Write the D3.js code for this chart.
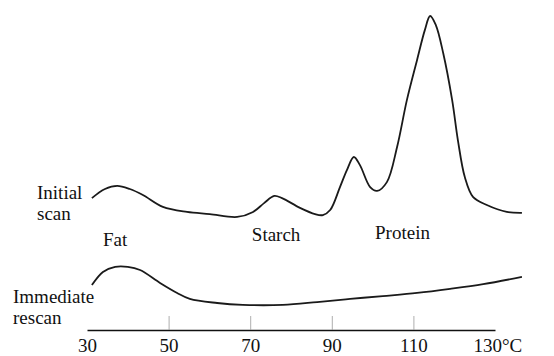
<!DOCTYPE html>
<html>
<head>
<meta charset="utf-8">
<script src="https://cdn.jsdelivr.net/npm/d3@7"></script>
<style>
  body { margin: 0; background: #fff; }
  svg { display: block; }
</style>
</head>
<body>
<div id="chart"></div>
<script>

////// DATA

// temperature in °C
var initial_temp = [31.2, 34.4, 37.4, 40.5, 43.7, 48.6, 54.5, 60.1, 66.8, 70.7, 73.4, 75.9, 77.8, 82.2, 85.9, 87.8, 89.6,
  92.0, 93.7, 95.4, 96.9, 99.4, 101.1, 103.5, 106.0, 108.4, 110.9, 112.8, 114.1, 115.5, 117.3, 119.5, 120.9, 122.6,
  124.6, 128.0, 132.9, 136.6];
// heat flow, relative units
var initial_flow = [42.0, 44.9, 45.9, 44.9, 43.0, 39.2, 37.6, 36.9, 36.0, 37.6, 40.4, 42.7, 42.0, 38.9, 36.9, 36.6, 38.2,
  45.5, 50.9, 55.1, 52.5, 45.5, 44.3, 47.1, 58.3, 73.2, 86.0, 95.5, 100, 97.1, 88.2, 73.2, 60.5, 48.7,
  42.4, 39.8, 37.6, 37.3];

var rescan_temp = [31.2, 33.9, 36.9, 40.0, 43.0, 47.9, 52.1, 55.2, 61.9, 68.2, 78.0, 86.4, 94.5, 102.5, 110.9, 119.0, 127.1, 136.6];
var rescan_flow = [14.3, 18.5, 20.1, 20.1, 19.1, 15.0, 11.8, 9.9, 8.6, 8.0, 8.0, 8.9, 9.9, 10.8, 11.8, 13.1, 14.6, 16.9];

var tick_values = [30, 50, 70, 90, 110, 130];

// peak names: [label, temperature, flow]
var peak_labels = [["Fat", 33.9, 26.8], ["Starch", 70.4, 28.3], ["Protein", 100.6, 29.0]];

////// CHART

var width = 554, height = 356;
var serif = "'Liberation Serif', 'Times New Roman', Times, 'DejaVu Serif', serif";

var svg = d3.select("#chart")
  .append("svg")
  .attr("width", width)
  .attr("height", height)
  .style("font-family", serif);

var x = d3.scaleLinear().domain([30, 130]).range([87, 495]);
var y = d3.scaleLinear().domain([0, 100]).range([330, 16]);

var line = d3.line()
  .x(function(d) { return x(d[0]); })
  .y(function(d) { return y(d[1]); })
  .curve(d3.curveCatmullRom.alpha(0.5));

// draw both scans
[[initial_temp, initial_flow], [rescan_temp, rescan_flow]].forEach(function(s) {
  svg.append("path")
    .datum(d3.zip(s[0], s[1]))
    .attr("fill", "none")
    .attr("stroke", "#1a1a1a")
    .attr("stroke-width", 1.8)
    .attr("d", line);
});

// axis with ticks pointing up
var axis = svg.append("g")
  .attr("transform", "translate(0," + y(0) + ")")
  .call(d3.axisBottom(x)
    .tickValues(tick_values)
    .tickSizeInner(-14)
    .tickSizeOuter(0)
    .tickPadding(9)
    .tickFormat(function(d) { return d == 130 ? d + "°C" : d; }));

axis.attr("font-family", null).attr("font-size", null);
axis.select(".domain").attr("stroke", "#111").attr("stroke-width", 1.5);
axis.selectAll(".tick line").attr("stroke", "#999").attr("stroke-width", 0.8)
  .filter(function(d) { return d == 30 || d == 130; }).remove();
axis.selectAll(".tick text")
  .style("font-family", serif)
  .style("font-size", "19px")
  .attr("fill", "#111");
axis.selectAll(".tick text").filter(function(d) { return d == 130; })
  .attr("text-anchor", "start")
  .attr("x", -22);

// series names on the left
var side = svg.append("g").style("font-size", "19px").style("font-family", serif).attr("fill", "#111");
side.append("text").attr("x", 37).attr("y", 199).text("Initial");
side.append("text").attr("x", 37).attr("y", 220).text("scan");
side.append("text").attr("x", 13).attr("y", 303).text("Immediate");
side.append("text").attr("x", 13).attr("y", 324).text("rescan");

// peak names
svg.selectAll(".peak")
  .data(peak_labels)
  .enter()
  .append("text")
  .attr("class", "peak")
  .style("font-size", "19px")
  .style("font-family", serif)
  .attr("fill", "#111")
  .attr("x", function(d) { return x(d[1]); })
  .attr("y", function(d) { return y(d[2]); })
  .text(function(d) { return d[0]; });

</script>
</body>
</html>
